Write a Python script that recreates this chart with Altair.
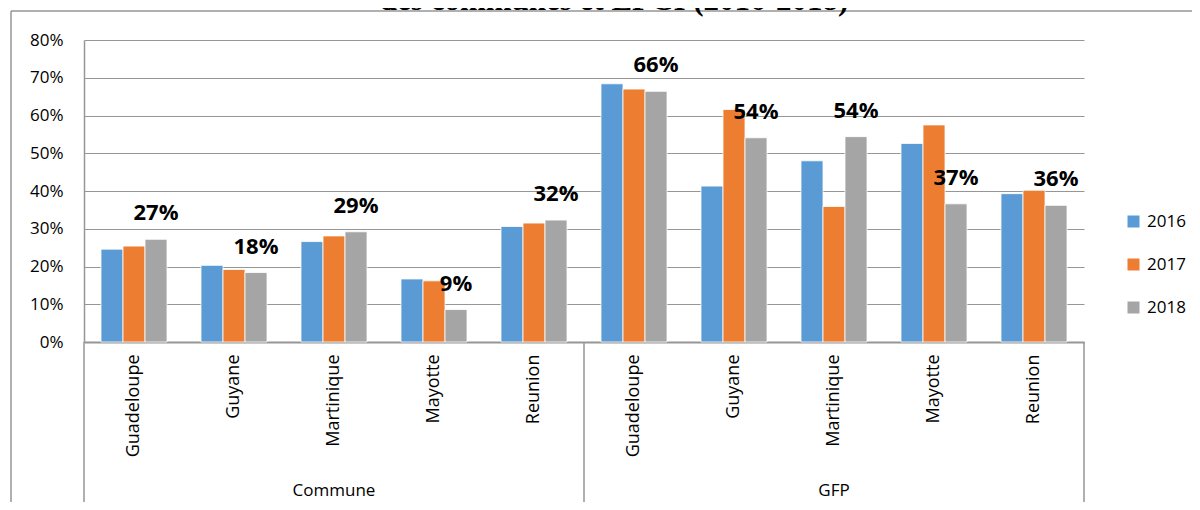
import altair as alt
import pandas as pd

# ---- data ----
groups = ["Commune", "GFP"]
territories = ["Guadeloupe", "Guyane", "Martinique", "Mayotte", "Reunion"]
years = ["2016", "2017", "2018"]
v2016 = [0.246, 0.203, 0.266, 0.167, 0.306, 0.684, 0.413, 0.480, 0.526, 0.393]
v2017 = [0.254, 0.192, 0.281, 0.162, 0.315, 0.670, 0.616, 0.359, 0.575, 0.402]
v2018 = [0.272, 0.184, 0.292, 0.086, 0.323, 0.664, 0.541, 0.544, 0.366, 0.362]
y_ticks = [0.0, 0.1, 0.2, 0.3, 0.4, 0.5, 0.6, 0.7, 0.8]
colors = ["#5B9BD5", "#ED7D31", "#A5A5A5"]
title_text = "des communes et EPCI (2016-2018)"

cats = [f"{g}|{t}" for g in groups for t in territories]
series = {"2016": v2016, "2017": v2017, "2018": v2018}
rows = []
for yr in years:
    for c, v in zip(cats, series[yr]):
        rows.append({"cat": c, "year": yr, "value": v})
df = pd.DataFrame(rows)

n = len(territories)
sep_df = pd.DataFrame({"pos": [i * n for i in range(len(groups) + 1)]})
grp_df = pd.DataFrame({"group": groups, "pos": [i * n + n / 2 for i in range(len(groups))]})
one = pd.DataFrame({"k": [0]})

GRID = "#969696"
FONT = "Open Sans"

x_enc = alt.X(
    "cat:N", sort=cats,
    scale=alt.Scale(paddingInner=0.34, paddingOuter=0.17),
    axis=alt.Axis(title=None, labelAngle=-90, labelExpr="split(datum.label, '|')[1]",
                  ticks=False, labelPadding=12, labelFont=FONT, labelFontSize=18,
                  labelColor="#000", domainColor=GRID, domainWidth=2, grid=False),
)
y_enc = alt.Y(
    "value:Q", scale=alt.Scale(domain=[0, 0.8], nice=False),
    axis=alt.Axis(title=None, format=".0%", values=y_ticks, ticks=False, labelPadding=21,
                  gridColor=GRID, gridWidth=1, domainColor=GRID, domainWidth=1.5,
                  labelFont=FONT, labelFontSize=17, labelColor="#000"),
)
xoff = alt.XOffset("year:N", scale=alt.Scale(domain=years))

bars = alt.Chart(df).mark_bar(stroke="white", strokeWidth=0.8).encode(
    x=x_enc, y=y_enc, xOffset=xoff,
    color=alt.Color("year:N", scale=alt.Scale(domain=years, range=colors),
                    legend=alt.Legend(title=None, orient="none", legendX=1041, legendY=173,
                                      symbolType="square", symbolSize=144, symbolStrokeWidth=0,
                                      labelFont=FONT, labelFontSize=17, labelColor="#000",
                                      rowPadding=25, labelOffset=5)),
)
labels = alt.Chart(df).transform_filter(alt.datum.year == "2018").mark_text(
    font=FONT, fontSize=22, fontWeight="bold", baseline="alphabetic", dy=-19, color="#000"
).encode(
    x=x_enc, y=y_enc, xOffset=xoff,
    text=alt.Text("value:Q", format=".0%"),
)
inner = alt.layer(bars, labels)

qx = alt.Scale(domain=[0, len(cats)], nice=False, zero=False)
seps = alt.Chart(sep_df).mark_rule(color=GRID, strokeWidth=1.5).encode(
    x=alt.X("pos:Q", scale=qx, axis=None), y=alt.value(302), y2=alt.value(465)
)
grp_text = alt.Chart(grp_df).mark_text(font=FONT, fontSize=17, color="#000").encode(
    x=alt.X("pos:Q", scale=qx, axis=None), y=alt.value(451), text="group:N"
)
border_top = alt.Chart(one).mark_rule(color=GRID, strokeWidth=1.5).encode(
    x=alt.value(-73), x2=alt.value(1108), y=alt.value(-29)
)
border_left = alt.Chart(one).mark_rule(color=GRID, strokeWidth=1.5).encode(
    x=alt.value(-73), y=alt.value(-29), y2=alt.value(470)
)
title = alt.Chart(one).mark_text(
    text=title_text, font="Liberation Serif", fontSize=31, fontWeight="bold",
    baseline="alphabetic", align="center", color="#000"
).encode(x=alt.value(530), y=alt.value(-30))
decor = alt.layer(seps, grp_text, border_top, border_left, title)

chart = alt.layer(inner, decor).resolve_scale(x="independent").properties(
    width=1000, height=302,
    padding={"left": 76, "top": 32, "right": 108, "bottom": 160},
    autosize=alt.AutoSizeParams(type="none"),
    background="white",
).configure_view(stroke=None)

chart.save("out.html", embed_options={"renderer": "svg", "actions": False})
